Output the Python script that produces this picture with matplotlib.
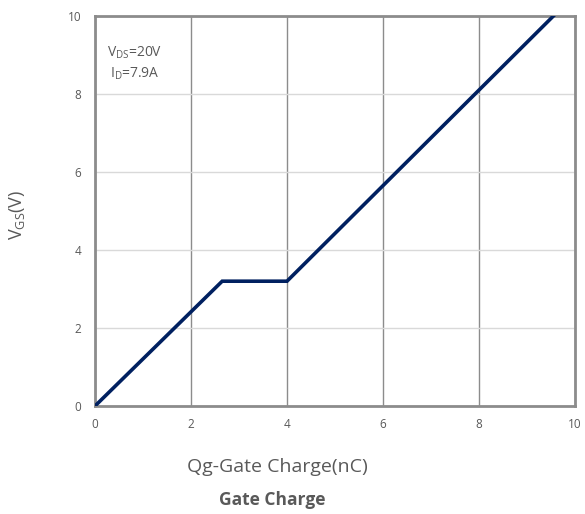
import matplotlib
matplotlib.use("Agg")
import matplotlib.pyplot as plt

# Data
qg_nc = [0, 2.65, 4.0, 9.55]
vgs_v = [0, 3.2, 3.2, 10.0]
x_ticks = [0, 2, 4, 6, 8, 10]
y_ticks = [0, 2, 4, 6, 8, 10]

plt.rcParams['font.family'] = ['Open Sans', 'DejaVu Sans']
plt.rcParams['mathtext.fontset'] = 'custom'
plt.rcParams['mathtext.rm'] = 'Open Sans'
plt.rcParams['mathtext.it'] = 'Open Sans'

txt = '#595959'
fig = plt.figure(figsize=(5.85, 5.14), dpi=100)
ax = fig.add_axes([95/585, 1-406/514, 480/585, 390/514])

ax.plot(qg_nc, vgs_v, color='#002060', lw=2.6, solid_joinstyle='miter', zorder=3)

ax.set_xlim(0, 10)
ax.set_ylim(0, 10)
ax.set_xticks(x_ticks)
ax.set_yticks(y_ticks)
ax.set_xticklabels([str(v) for v in x_ticks])
ax.set_yticklabels([str(v) for v in y_ticks])
ax.tick_params(length=0, labelsize=8.5, colors=txt, pad=9)
ax.tick_params(axis='y', pad=10)

ax.grid(axis='x', color='#8c8c8c', lw=1.0)
ax.grid(axis='y', color='#d9d9d9', lw=1.0)
ax.set_axisbelow(True)
for s in ax.spines.values():
    s.set_color('#8c8c8c')
    s.set_linewidth(2.0)

ax.text(0.83, 9.05, r'V$_{\mathrm{DS}}$=20V', fontsize=10, color=txt, va='center', ha='center')
ax.text(0.83, 8.52, r'I$_{\mathrm{D}}$=7.9A', fontsize=10, color=txt, va='center', ha='center')

fig.text(277/585, 1-467/514, 'Qg-Gate Charge(nC)', fontsize=14, color=txt,
         ha='center', va='center')
fig.text(272/585, 1-500/514, 'Gate Charge', fontsize=12.5, color=txt,
         ha='center', va='center', fontweight='bold')
fig.text(17/585, 1-215/514, r'V$_{\mathrm{GS}}$(V)', fontsize=13, color=txt,
         ha='center', va='center', rotation=90)

fig.savefig('out.png', dpi=100, facecolor='white')
